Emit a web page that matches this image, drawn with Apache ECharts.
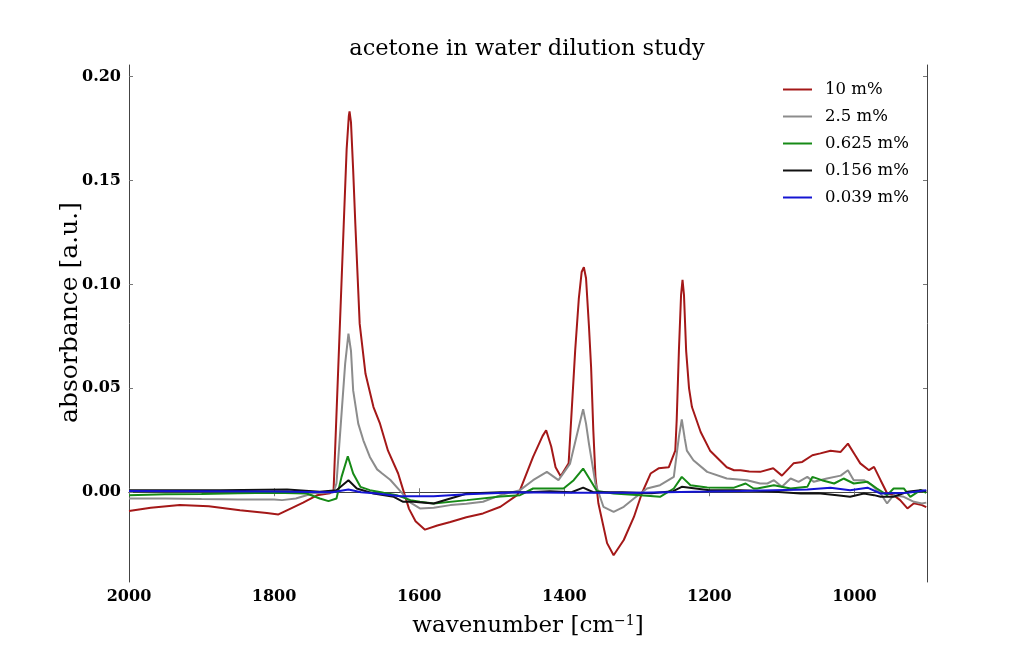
<!DOCTYPE html>
<html><head><meta charset="utf-8">
<script src="https://cdn.jsdelivr.net/npm/echarts@6/dist/echarts.min.js"></script>
<style>html,body{margin:0;padding:0;background:#fff}#c{width:1030px;height:647px}</style>
</head><body><div id="c"></div>
<script>
var seriesNames = ['10 m%', '2.5 m%', '0.625 m%', '0.156 m%', '0.039 m%'];
var seriesColors = ['#a41818', '#8c8c8c', '#168a16', '#111111', '#1414d2'];
var xTicks = [2000, 1800, 1600, 1400, 1200, 1000];
var yTicks = [0.00, 0.05, 0.10, 0.15, 0.20];

var red10 = [[2000,-0.009],[1970,-0.0075],[1930,-0.0062],[1890,-0.0068],[1847,-0.0087],[1810,-0.0100],[1794,-0.0107],[1778,-0.0080],[1760,-0.0050],[1741,-0.0015],[1723,-0.0005],[1718,0.001],[1711,0.065],[1704,0.129],[1700,0.165],[1697,0.181],[1696,0.1833],[1694,0.178],[1691,0.155],[1688,0.129],[1682,0.081],[1674,0.057],[1663,0.041],[1654,0.033],[1643,0.020],[1629,0.009],[1622,0.001],[1614,-0.008],[1605,-0.014],[1592,-0.018],[1575,-0.016],[1557,-0.0143],[1535,-0.012],[1512,-0.0102],[1488,-0.007],[1465,-0.0014],[1461,0.001],[1443,0.017],[1430,0.027],[1425,0.0298],[1418,0.022],[1412,0.012],[1405,0.0077],[1394,0.0139],[1385,0.068],[1380,0.093],[1376,0.106],[1373,0.1083],[1370,0.103],[1366,0.080],[1363,0.060],[1360,0.030],[1357,0.0074],[1353,-0.0053],[1341,-0.0245],[1332,-0.0303],[1318,-0.023],[1304,-0.0119],[1293,-0.0005],[1281,0.009],[1270,0.0115],[1256,0.012],[1247,0.020],[1245,0.035],[1242,0.068],[1239,0.095],[1237,0.1022],[1235,0.095],[1232,0.068],[1228,0.050],[1224,0.041],[1212,0.029],[1199,0.020],[1176,0.012],[1166,0.0106],[1157,0.0106],[1145,0.0100],[1130,0.0098],[1112,0.0115],[1100,0.008],[1084,0.0139],[1072,0.0146],[1058,0.0178],[1047,0.0187],[1033,0.020],[1019,0.0194],[1009,0.0234],[999,0.0178],[992,0.0139],[980,0.0106],[973,0.0122],[964,0.0058],[955,-0.0005],[946,-0.0014],[937,-0.0038],[927,-0.0078],[918,-0.0053],[907,-0.0062],[901,-0.0072]];

var gray25 = [[2000,-0.003],[1950,-0.0030],[1900,-0.0033],[1850,-0.0035],[1800,-0.0035],[1789,-0.0038],[1770,-0.0030],[1746,-0.0005],[1718,0.0],[1714,0.0043],[1708,0.033],[1702,0.062],[1697.5,0.0763],[1694,0.068],[1691,0.049],[1684,0.033],[1677,0.025],[1668,0.017],[1658,0.011],[1651,0.009],[1640,0.006],[1626,0.0005],[1612,-0.005],[1599,-0.0078],[1580,-0.0075],[1557,-0.0062],[1535,-0.0055],[1512,-0.0046],[1488,-0.0014],[1461,0.001],[1443,0.0058],[1424,0.0098],[1408,0.0058],[1392,0.0138],[1380,0.0314],[1374,0.040],[1370,0.033],[1366,0.0234],[1357,0.0042],[1346,-0.007],[1332,-0.0095],[1318,-0.007],[1304,-0.003],[1286,0.0018],[1268,0.0034],[1249,0.0074],[1242,0.0266],[1238,0.035],[1234,0.026],[1231,0.020],[1222,0.0154],[1203,0.0098],[1176,0.0066],[1148,0.0058],[1130,0.0042],[1120,0.0042],[1111,0.0058],[1100,0.0026],[1088,0.0066],[1077,0.005],[1065,0.0074],[1056,0.005],[1038,0.0066],[1019,0.008],[1009,0.0106],[1001,0.0058],[987,0.0058],[976,0.0034],[964,-0.0006],[955,-0.0054],[946,-0.0014],[932,-0.0022],[918,-0.0046],[907,-0.0054],[901,-0.005]];

var green0625 = [[2000,-0.0014],[1950,-0.0010],[1900,-0.0008],[1850,-0.0005],[1800,-0.0003],[1755,-0.0006],[1737,-0.003],[1725,-0.0043],[1714,-0.003],[1707,0.0074],[1698.4,0.0173],[1691,0.009],[1681,0.0026],[1668,0.001],[1649,-0.0003],[1631,-0.0014],[1612,-0.0038],[1599,-0.0046],[1580,-0.0054],[1534,-0.0038],[1488,-0.002],[1461,-0.0014],[1443,0.0018],[1424,0.0018],[1401,0.0018],[1387,0.0058],[1374,0.0114],[1364,0.0058],[1355,0.0006],[1332,-0.0006],[1295,-0.0014],[1268,-0.0022],[1249,0.0018],[1238,0.0074],[1226,0.0034],[1203,0.0023],[1166,0.0022],[1150,0.0042],[1139,0.0018],[1134,0.0018],[1111,0.0034],[1088,0.0018],[1065,0.0026],[1058,0.0074],[1045,0.0058],[1028,0.0042],[1015,0.0066],[1001,0.0042],[982,0.005],[969,0.0018],[955,-0.0014],[946,0.0018],[932,0.0018],[923,-0.0022],[909,0.001],[901,-0.0003]];

var black0156 = [[2000,0.001],[1874,0.001],[1782,0.0013],[1737,0.0002],[1714,0.001],[1697.5,0.0058],[1686,0.0018],[1663,-0.0006],[1635,-0.0022],[1622,-0.0046],[1608,-0.0046],[1580,-0.0054],[1557,-0.003],[1534,-0.0006],[1488,0.0],[1450,0.0],[1420,0.0005],[1390,0.0],[1374,0.0022],[1360,0.0],[1320,0.0],[1280,-0.0005],[1250,0.0005],[1238,0.0026],[1200,0.001],[1157,0.001],[1120,0.0005],[1074,-0.0006],[1050,-0.0005],[1024,-0.0014],[1006,-0.0022],[987,-0.0006],[973,-0.0014],[964,-0.0022],[946,-0.0022],[927,0.0002],[909,0.001],[901,0.0005]];

var blue0039 = [[2000,0.0006],[1900,0.0005],[1800,0.0003],[1720,0.0],[1697.5,0.0013],[1680,0.0],[1658,-0.0006],[1626,-0.0019],[1580,-0.0019],[1534,-0.001],[1465,0.0],[1400,-0.0003],[1300,-0.0003],[1200,0.0003],[1157,0.0006],[1111,0.001],[1065,0.0013],[1033,0.0022],[1006,0.001],[982,0.0022],[964,-0.0006],[927,-0.0003],[901,0.001]];

var seriesData = [red10, gray25, green0625, black0156, blue0039];

var FONT = 'DejaVu Serif';
var chart = echarts.init(document.getElementById('c'), null, {renderer: 'canvas'});
var frame = {show: true, lineStyle: {color: '#444', width: 1}};
var tickStyle = {show: true, inside: true, length: 4, lineStyle: {color: '#777', width: 1}};
chart.setOption({
  backgroundColor: '#fff',
  animation: false,
  title: {
    text: 'acetone in water dilution study', left: 522, top: 33, textAlign: 'center',
    textStyle: {fontFamily: FONT, fontSize: 22.5, fontWeight: 'normal', color: '#000'}
  },
  legend: {
    orient: 'vertical', left: 778, top: 76, itemWidth: 29, itemHeight: 2, itemGap: 10,
    icon: 'rect',
    data: seriesNames,
    textStyle: {fontFamily: FONT, fontSize: 16.5, color: '#000', padding: [0, 0, 0, 8], lineHeight: 17}
  },
  grid: {left: 129, right: 103, top: 65, bottom: 65, containLabel: false},
  xAxis: [{
    type: 'value', inverse: true, min: 900, max: 2000,
    name: 'wavenumber [cm{s|\u22121}]', nameLocation: 'middle', nameGap: 32,
    nameTextStyle: {fontFamily: FONT, fontSize: 23, color: '#000', rich: {s: {fontFamily: FONT, fontSize: 14, verticalAlign: 'top', padding: [0, 0, 10, 0]}}},
    axisLine: frame, splitLine: {show: false},
    axisTick: Object.assign({customValues: xTicks}, tickStyle),
    axisLabel: {customValues: xTicks, fontFamily: FONT, fontWeight: 'bold', fontSize: 16, color: '#000', margin: 7,
      formatter: function (v) { return String(v); }}
  }, {
    type: 'value', inverse: true, min: 900, max: 2000, position: 'top',
    axisLine: frame, splitLine: {show: false},
    axisTick: Object.assign({customValues: xTicks}, tickStyle),
    axisLabel: {show: false}
  }],
  yAxis: [{
    type: 'value', min: -0.0432, max: 0.2056,
    name: 'absorbance [a.u.]', nameLocation: 'middle', nameGap: 46, nameRotate: 90, nameMoveOverlap: false,
    nameTextStyle: {fontFamily: FONT, fontSize: 25, color: '#000', padding: [0, 0, 0, 22]},
    axisLine: frame, splitLine: {show: false},
    axisTick: Object.assign({customValues: yTicks}, tickStyle),
    axisLabel: {customValues: yTicks, fontFamily: FONT, fontWeight: 'bold', fontSize: 16, color: '#000', margin: 8,
      formatter: function (v) { return v.toFixed(2); }}
  }, {
    type: 'value', min: -0.0432, max: 0.2056, position: 'right',
    axisLine: frame, splitLine: {show: false},
    axisTick: Object.assign({customValues: yTicks}, tickStyle),
    axisLabel: {show: false}
  }],
  series: seriesNames.map(function (n, i) {
    return {
      name: n, type: 'line', data: seriesData[i], showSymbol: false, symbol: 'none',
      xAxisIndex: 0, yAxisIndex: 0,
      lineStyle: {color: seriesColors[i], width: 2}, itemStyle: {color: seriesColors[i]},
      z: 10 + i
    };
  })
});
</script></body></html>
